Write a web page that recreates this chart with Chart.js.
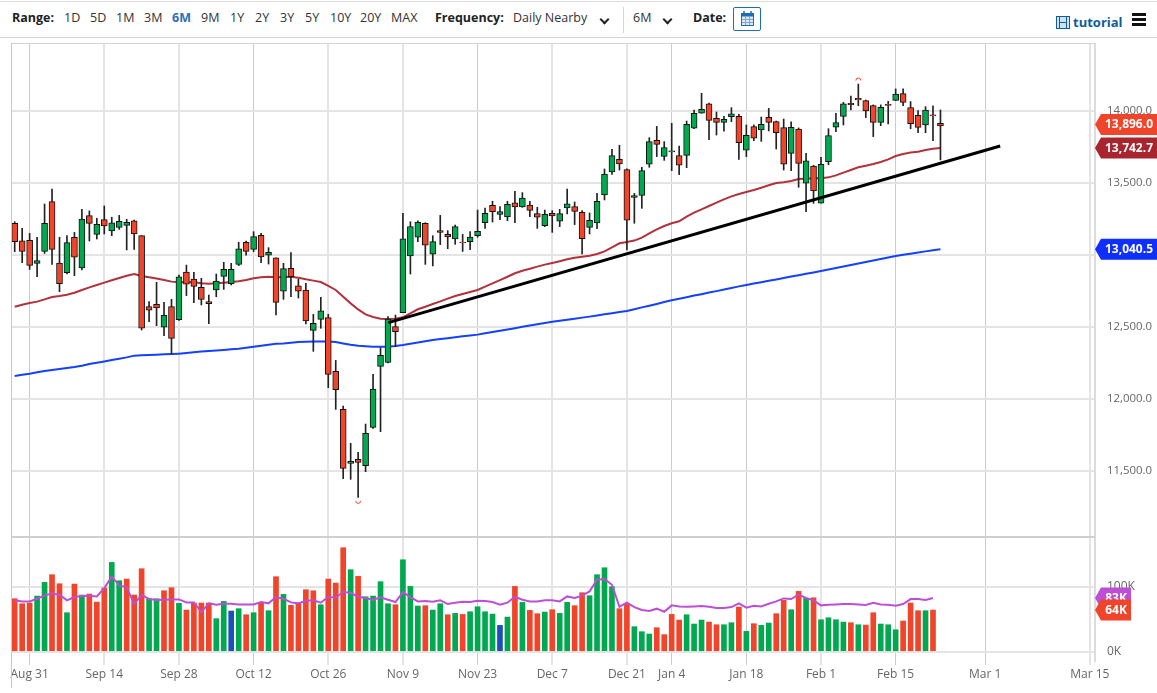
<!DOCTYPE html>
<html>
<head>
<meta charset="utf-8">
<title>Futures chart</title>
<script src="https://cdn.jsdelivr.net/npm/chart.js@4"></script>
<style>
  html, body { margin: 0; padding: 0; background: #fff; width: 1157px; height: 693px; overflow: hidden; font-family: "Open Sans", sans-serif; }
  canvas { position: absolute; left: 0; display: block; }
  #c-price { top: 43px; }
  #c-vol { top: 537px; }
  .t { position: absolute; top: 10px; font-size: 12.5px; line-height: 16px; color: #333; white-space: nowrap; }
  .b { font-weight: 700; color: #222; }
  .on { font-weight: 700; color: #2f6fb3; }
  .ln { position: absolute; background: #d4d4d4; }
  .chev { position: absolute; top: 16px; width: 5px; height: 5px; border-right: 2px solid #222; border-bottom: 2px solid #222; transform: rotate(45deg); }
  #cal { position: absolute; left: 733px; top: 7px; width: 26px; height: 22px; border: 1px solid #1b6fb5; border-radius: 2px; }
  #tut { position: absolute; left: 1073px; top: 14px; font-size: 13px; line-height: 16px; font-weight: 700; color: #0f5c99; }
  .bar3 { position: absolute; left: 1132px; width: 14px; height: 3px; background: #111; }
</style>
</head>
<body>
<div class="ln" style="left:0;top:1px;width:1157px;height:1px;background:#ddd"></div>
<div class="ln" style="left:0;top:37px;width:1157px;height:1px"></div>
<div class="t b" style="left:12px">Range:</div>
<div class="t" style="left:64px">1D</div>
<div class="t" style="left:90px">5D</div>
<div class="t" style="left:116px">1M</div>
<div class="t" style="left:144px">3M</div>
<div class="t on" style="left:172px">6M</div>
<div class="t" style="left:201px">9M</div>
<div class="t" style="left:230px">1Y</div>
<div class="t" style="left:255px">2Y</div>
<div class="t" style="left:280px">3Y</div>
<div class="t" style="left:305px">5Y</div>
<div class="t" style="left:330px">10Y</div>
<div class="t" style="left:360px">20Y</div>
<div class="t" style="left:391px">MAX</div>
<div class="t b" style="left:435px">Frequency:</div>
<div class="t" style="left:513px">Daily Nearby</div>
<div class="chev" style="left:601px"></div>
<div class="ln" style="left:623px;top:7px;width:1px;height:26px"></div>
<div class="t" style="left:633px">6M</div>
<div class="chev" style="left:664px"></div>
<div class="t b" style="left:693px">Date:</div>
<div id="cal">
  <svg width="26" height="22" viewBox="0 0 26 22">
    <rect x="7.5" y="5.5" width="12" height="12" fill="#dbe8f5" stroke="#1b6fb5"/>
    <rect x="7.5" y="5.5" width="12" height="3" fill="#1b6fb5"/>
    <path d="M10 3v4M17 3v4" stroke="#1b6fb5" stroke-width="1.5"/>
    <path d="M11.5 9v8M15.5 9v8M8 11.5h11M8 14.5h11" stroke="#7fa9d2" stroke-width="1"/>
  </svg>
</div>
<svg style="position:absolute;left:1056px;top:16px" width="14" height="13" viewBox="0 0 14 13">
  <rect x="0.5" y="0.5" width="13" height="12" fill="#cfe2f3" stroke="#0f5c99"/>
  <path d="M3.5 0v13M10.5 0v13M3.5 6.5h7" stroke="#0f5c99" stroke-width="1"/>
</svg>
<div id="tut">tutorial</div>
<div class="bar3" style="top:13px"></div>
<div class="bar3" style="top:18px"></div>
<div class="bar3" style="top:23px"></div>

<canvas id="c-price" width="1157" height="494" style="width:1157px;height:494px"></canvas>
<canvas id="c-vol" width="1157" height="151" style="width:1157px;height:151px"></canvas>
<div class="ln" style="left:11px;top:43px;width:1084px;height:1px"></div>
<div class="ln" style="left:11px;top:536px;width:1084px;height:2px;background:#cfcfcf"></div>
<div class="ln" style="left:11px;top:43px;width:1px;height:645px;background:#c8c8c8"></div>

<script>
// daily candles, oldest first
const opens = [
  13220,13099,13102,12942,13025,13370,12944,12877,13123,12910,
  13273,13143,13245,13167,13192,13206,13238,13134,12641,12657,
  12498,12641,12551,12882,12833,12775,12676,12757,12852,12801,
  12935,13088,13039,13136,12998,12981,12748,12907,12785,12757,
  12477,12553,12565,12192,11928,11553,11581,11537,11803,12227,
  12254,12502,12599,12993,13123,13220,13005,13169,13143,13111,
  13090,13093,13134,13224,13345,13282,13264,13363,13333,13347,
  13287,13204,13289,13234,13326,13336,13296,13192,13222,13417,
  13576,13664,13593,13400,13414,13630,13796,13685,13715,13690,
  13692,13880,13984,14049,13949,13921,13961,13963,13727,13891,
  13868,13956,13926,13884,13706,13875,13498,13618,13359,13648,
  13887,13963,14053,14088,14072,14037,13921,14046,14074,14120,
  14023,13970,13903,13974,13914];
const highs = [
  13231,13185,13150,13123,13354,13458,13123,13134,13157,13317,
  13306,13255,13340,13262,13275,13248,13243,13134,12676,12810,
  12671,12692,12861,12930,12880,12838,12722,12868,12949,12942,
  13088,13097,13162,13150,13051,12981,12942,13016,12833,12803,
  12588,12706,12588,12268,11951,11692,11629,11826,12171,12356,
  12572,12583,13289,13231,13238,13224,13134,13275,13169,13208,
  13143,13162,13312,13326,13373,13336,13373,13442,13433,13373,
  13331,13312,13308,13317,13458,13368,13308,13292,13428,13597,
  13734,13762,13599,13428,13609,13815,13893,13787,13914,13757,
  13930,14007,14123,14055,13993,13963,14023,13977,13903,13903,
  13958,14018,13930,13944,13924,13882,13706,13623,13678,13877,
  13984,14060,14104,14187,14076,14042,14042,14067,14153,14153,
  14065,14002,14030,14035,14007];
const lows = [
  13023,12947,12900,12849,13011,12935,12745,12868,12856,12896,
  13097,13111,13146,13134,13178,13035,13039,12479,12537,12509,
  12440,12312,12546,12718,12669,12653,12523,12710,12761,12792,
  12926,12998,13023,12947,12937,12583,12692,12710,12701,12521,
  12331,12491,12079,11928,11447,11442,11317,11495,11796,11773,
  12250,12363,12599,12868,13093,12935,12924,13072,13044,13074,
  13025,13037,13123,13185,13229,13245,13238,13224,13331,13266,
  13185,13197,13157,13197,13285,13211,13007,13146,13183,13382,
  13560,13590,13035,13220,13324,13609,13683,13657,13586,13558,
  13606,13877,13984,13801,13833,13859,13926,13664,13683,13794,
  13789,13861,13736,13590,13586,13470,13301,13359,13359,13627,
  13856,13903,14007,14037,13954,13822,13898,13910,14072,14037,
  13877,13849,13849,13794,13660];
const closes = [
  13093,13025,12928,12961,13220,13039,12801,13086,12984,13250,
  13220,13213,13201,13224,13234,13227,13146,12491,12616,12632,
  12581,12421,12849,12798,12782,12692,12662,12819,12900,12900,
  13042,13025,13127,12986,13018,12671,12905,12849,12748,12542,
  12525,12613,12171,12065,11518,11567,11560,11761,12069,12303,
  12555,12467,13113,13197,13227,13069,13093,13157,13125,13197,
  13086,13125,13164,13289,13301,13301,13352,13333,13396,13310,
  13262,13282,13271,13287,13356,13303,13113,13241,13373,13562,
  13690,13632,13241,13412,13586,13787,13768,13745,13724,13623,
  13907,13984,14012,13935,13921,13942,13981,13780,13831,13812,
  13907,13921,13849,13630,13887,13636,13653,13444,13630,13829,
  13919,14049,14044,14076,14000,13921,14025,14039,14118,14060,
  13912,13886,14007,13965,13896];

const maShort = [
  12641,12655,12667,12676,12692,12708,12715,12724,12738,12757,
  12775,12792,12808,12824,12840,12856,12868,12854,12845,12836,
  12826,12815,12810,12812,12810,12803,12801,12803,12808,12812,
  12817,12826,12838,12845,12849,12845,12847,12849,12842,12831,
  12822,12812,12785,12757,12710,12664,12622,12588,12569,12558,
  12555,12558,12567,12595,12623,12641,12660,12678,12697,12715,
  12729,12743,12757,12780,12803,12826,12849,12873,12891,12905,
  12919,12933,12944,12956,12970,12981,12988,12995,13007,13025,
  13053,13081,13090,13100,13120,13150,13178,13201,13220,13234,
  13266,13294,13317,13340,13363,13386,13407,13423,13437,13451,
  13467,13484,13500,13505,13514,13528,13530,13532,13532,13539,
  13553,13572,13590,13609,13620,13632,13646,13664,13687,13701,
  13711,13717,13729,13738,13742.7];
const maLong = [
  12160,12169,12176,12185,12194,12201,12208,12215,12222,12231,
  12243,12252,12261,12271,12280,12289,12301,12303,12305,12308,
  12310,12312,12315,12319,12324,12329,12333,12336,12340,12345,
  12349,12356,12363,12370,12377,12384,12386,12391,12396,12398,
  12400,12400,12400,12396,12386,12377,12370,12366,12363,12363,
  12363,12368,12375,12384,12392,12401,12410,12416,12422,12429,
  12435,12441,12447,12456,12465,12474,12483,12492,12501,12510,
  12519,12528,12537,12544,12551,12558,12565,12572,12580,12588,
  12596,12604,12611,12623,12636,12648,12660,12673,12685,12696,
  12707,12718,12728,12739,12749,12760,12771,12782,12792,12802,
  12811,12821,12830,12840,12850,12859,12869,12879,12889,12899,
  12910,12920,12931,12941,12951,12962,12972,12983,12993,13001,
  13009,13017,13025,13033,13040.5];

// trend line drawn by hand on the original: [bar index, price]
const trendX = [50.05, 132];
const trendY = [12530, 13757];

// volume in thousands; the last candle has no volume yet
const volumes = [
  81.5,73.8,74.9,85.6,106.7,118.5,104.6,60,104.1,87.2,
  88.7,76.4,98,137.4,109.2,111.8,87.2,127.7,81.5,81.5,
  93.8,98.5,74.4,64.1,74.9,74.9,74.9,50.8,77.4,62.6,
  66.2,56.9,60,74.9,63.1,115.4,88.2,71.3,74.9,95.4,
  93.8,72.3,111.8,105.6,160,126.2,115.9,84.6,85.6,107.7,
  73.8,72.3,141.5,100.5,70.3,70.8,64.1,73.8,56.9,59,
  57.4,61.5,69.2,61.5,57.9,40.5,53.3,100.5,75.9,63.6,
  58.5,61,64.6,59,75.9,70.8,90.8,86.2,118.5,129.2,
  100,66.2,74.4,38.5,30.8,27.2,36.9,26.2,57.4,48.7,
  56.9,42.6,48.7,45.6,41.5,41.5,44.6,68.7,31.3,43.1,
  40.5,44.1,58.5,79,64.6,92.8,82,83,49.2,52.3,
  49.2,45.6,44.6,41.5,41,60,42.6,41.5,33.8,47.2,
  74.9,63.1,63.1,64.1];
const volKinds = [
  'r','r','r','g','g','r','r','g','r','g',
  'r','r','r','g','g','r','r','r','g','g',
  'r','r','g','r','r','r','r','g','g','b',
  'g','r','g','r','g','r','g','r','r','r',
  'r','g','r','r','r','g','r','g','g','g',
  'g','r','g','g','g','r','g','g','r','g',
  'r','g','g','g','g','b','g','r','g','r',
  'r','g','r','g','g','r','r','g','g','g',
  'g','r','r','g','g','g','r','r','r','r',
  'g','g','g','r','r','g','g','r','g','r',
  'g','g','r','r','g','r','g','r','g','g',
  'g','g','r','g','r','r','g','g','g','r',
  'r','r','g','r'];
const volMa = [
  79,77.4,77.4,81.5,86.7,89.7,87.7,79,84.1,85.6,
  86.2,85.1,97.9,115.4,102,99,73.3,87.7,81,79.5,
  80,80.5,80.5,75.9,75.9,61,74.4,72.3,73.8,73.8,
  72.8,72.8,72.8,76.4,74.4,84.1,81.5,75.9,74.4,78.5,
  79,75.4,84.6,83.1,92.3,90.3,84.6,82.6,79.5,83.6,
  80,76.4,91.8,84.1,77.4,77.9,76.9,79,73.3,75.4,
  76.9,76.4,78.5,77.9,76.4,72.3,75.4,84.6,80,77.4,
  77.4,79,79,77.4,85.1,82.6,86.2,92.8,110.8,111.8,
  103,69.2,75.4,68.7,64.1,62.6,66.2,61.5,71.3,69.7,
  69.2,69.7,70.3,69.2,67.2,67.2,68.7,74.4,67.7,70.8,
  69.7,73.8,77.4,82,81,87.7,82.6,79,71.3,72.3,
  72.8,73.3,73.3,72.8,71.8,75.4,72.8,72.3,70.8,73.3,
  81,81,79.5,82.6];

const dateTickIdx = [2,12,22,32,42,52,62,72,82,88,98,108,118,130,144];
const dateTickLabels = ['Aug 31','Sep 14','Sep 28','Oct 12','Oct 26','Nov 9','Nov 23','Dec 7','Dec 21','Jan 4','Jan 18','Feb 1','Feb 15','Mar 1','Mar 15'];
const priceTicks = [11500,12000,12500,13000,13500,14000];
const volTicks = [0,100];

const RED = '#f0452a', GREEN = '#00a94f', BLUE = '#1c4fb8', MA_RED = '#b2323b', MA_BLUE = '#1440ff', PURPLE = '#bd4fd6';
const GRID = '#e4e4e4', GRID_THIN = '#cccccc', TXT = '#666';
const thinGrid = [0,3,6,9,10,12,13]; // these verticals land on one pixel in the original
const FONT = '"Open Sans", sans-serif';
const X_MIN = -0.496, X_MAX = 144.7;

const idx = opens.map((_, i) => i);
const candleColor = i => closes[i] >= opens[i] ? GREEN : RED;
const volColor = { r: RED, g: GREEN, b: BLUE };

function xScale(showLabels) {
  return {
    type: 'linear', min: X_MIN, max: X_MAX, offset: false,
    afterBuildTicks: s => { s.ticks = dateTickIdx.map(v => ({ value: v })); },
    afterFit: s => { s.height = showLabels ? 27 : 0; s.paddingLeft = 0; s.paddingRight = 0; },
    border: { display: false },
    grid: {
      offset: false, drawOnChartArea: true, drawTicks: showLabels, tickLength: 4,
      color: c => thinGrid.includes(c.index) ? GRID_THIN : GRID,
      lineWidth: c => thinGrid.includes(c.index) ? 1 : 2,
    },
    ticks: {
      display: showLabels, autoSkip: false, maxRotation: 0, minRotation: 0, padding: 2, color: TXT,
      font: { family: FONT, size: 12 },
      callback: v => dateTickLabels[dateTickIdx.indexOf(v)],
    },
  };
}

function yScale(min, max, tickVals, fmt, size) {
  return {
    position: 'right', min, max,
    afterBuildTicks: s => { s.ticks = tickVals.map(v => ({ value: v })); },
    afterFit: s => { s.width = 62; s.paddingTop = 0; s.paddingBottom = 0; },
    border: { display: true, color: '#dcdcdc', width: 2 },
    grid: { color: GRID, lineWidth: 2, drawTicks: false },
    ticks: { padding: 12, color: TXT, font: { family: FONT, size }, callback: fmt },
  };
}

// value tags at the right edge, drawn last so they sit above the tick labels
function tagsPlugin(tags) {
  return {
    id: 'tags',
    afterDraw(chart) {
      const c = chart.ctx, y = chart.scales.y;
      tags.forEach(t => {
        const py = y.getPixelForValue(t.value) + (t.nudge || 0);
        const l = 1095, r = t.right, h = 10.5;
        c.save();
        c.fillStyle = t.color;
        c.beginPath();
        c.moveTo(l, py); c.lineTo(l + 6, py - h); c.lineTo(r, py - h); c.lineTo(r, py + h); c.lineTo(l + 6, py + h);
        c.closePath(); c.fill();
        c.fillStyle = '#fff';
        c.font = '700 12px ' + FONT;
        c.textAlign = 'center'; c.textBaseline = 'middle';
        c.fillText(t.text, (l + 6 + r) / 2, py + 0.5);
        c.restore();
      });
    },
  };
}

// little arcs over the range high and under the range low
const hiLoPlugin = {
  id: 'hiLo',
  afterDatasetsDraw(chart) {
    const c = chart.ctx, xs = chart.scales.x, ys = chart.scales.y;
    const hi = highs.indexOf(Math.max(...highs)), lo = lows.indexOf(Math.min(...lows));
    c.save();
    c.strokeStyle = RED; c.lineWidth = 1;
    c.beginPath();
    c.arc(xs.getPixelForValue(hi), ys.getPixelForValue(highs[hi]) - 3.5, 2.5, Math.PI, 2 * Math.PI);
    c.stroke();
    c.beginPath();
    c.arc(xs.getPixelForValue(lo), ys.getPixelForValue(lows[lo]) + 3.5, 2.5, 0, Math.PI);
    c.stroke();
    c.restore();
  },
};

const money = v => v.toLocaleString('en-US', { minimumFractionDigits: 1, maximumFractionDigits: 1 });
const last = a => a[a.length - 1];
const baseOpts = { responsive: false, animation: false, events: [], plugins: { legend: { display: false }, tooltip: { enabled: false } } };

new Chart(document.getElementById('c-price'), {
  type: 'bar',
  data: {
    datasets: [
      { type: 'line', order: 0, data: trendX.map((x, i) => ({ x, y: trendY[i] })), borderColor: '#000', borderWidth: 3, pointRadius: 0 },
      { order: 1, grouped: false, barThickness: 6, borderWidth: 1, borderColor: '#111', borderSkipped: false,
        data: idx.map(i => ({ x: i, y: [opens[i], closes[i]] })), backgroundColor: idx.map(candleColor) },
      { order: 2, grouped: false, barThickness: 1, borderWidth: 0, backgroundColor: '#222',
        data: idx.map(i => ({ x: i, y: [lows[i], highs[i]] })) },
      { type: 'line', order: 3, data: idx.map(i => ({ x: i, y: maShort[i] })), borderColor: MA_RED, borderWidth: 2, pointRadius: 0 },
      { type: 'line', order: 3, data: idx.map(i => ({ x: i, y: maLong[i] })), borderColor: MA_BLUE, borderWidth: 2, pointRadius: 0 },
    ],
  },
  options: {
    ...baseOpts,
    layout: { padding: { left: 11, right: 0, top: 0, bottom: 0 } },
    scales: { x: xScale(false), y: yScale(11041.7, 14472, priceTicks, money, 11.4) },
  },
  plugins: [hiLoPlugin, tagsPlugin([
    { value: last(closes), text: money(last(closes)), color: RED, right: 1157, nudge: -1.5 },
    { value: last(maShort), text: money(last(maShort)), color: '#a8242e', right: 1157 },
    { value: last(maLong), text: money(last(maLong)), color: '#0f2fff', right: 1157 },
  ])],
});

new Chart(document.getElementById('c-vol'), {
  type: 'bar',
  data: {
    datasets: [
      { type: 'line', order: 0, data: volMa.map((y, i) => ({ x: i, y })), borderColor: PURPLE, borderWidth: 2, pointRadius: 0 },
      { order: 1, grouped: false, barThickness: 5, data: volumes.map((y, i) => ({ x: i, y })), backgroundColor: volKinds.map(k => volColor[k]) },
    ],
  },
  options: {
    ...baseOpts,
    layout: { padding: { left: 11, right: 0, top: 0, bottom: 0 } },
    scales: { x: xScale(true), y: yScale(-14.3, 176.5, volTicks, v => v + 'K', 12) },
  },
  plugins: [tagsPlugin([
    { value: last(volMa), text: Math.round(last(volMa)) + 'K', color: PURPLE, right: 1131 },
    { value: last(volumes), text: Math.round(last(volumes)) + 'K', color: RED, right: 1131 },
  ])],
});
</script>
</body>
</html>
